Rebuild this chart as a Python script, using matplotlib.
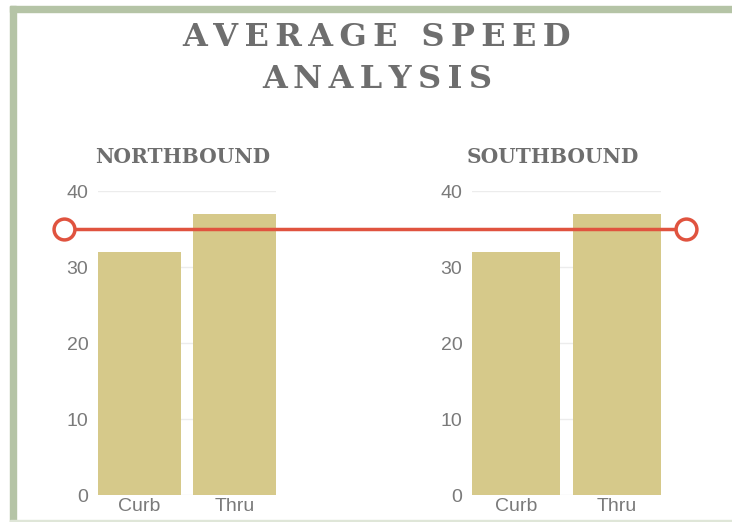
import matplotlib.pyplot as plt
from matplotlib.patches import Rectangle

# data
categories = ["Curb", "Thru"]
north_speed = [32, 37]
south_speed = [32, 37]
speed_limit = 35
y_ticks = [0, 10, 20, 30, 40]

bar_color = "#d6c98a"
line_color = "#e0533f"
text_gray = "#6e6e6e"
tick_gray = "#7a7a7a"
border_green = "#b5c4a6"

fig = plt.figure(figsize=(7.32, 5.22), dpi=100)
W, H = 732, 522


def px_axes(x0, x1, y_top, y_bot):
    return [x0 / W, 1 - y_bot / H, (x1 - x0) / W, (y_bot - y_top) / H]


# green frame
fig.patches.append(Rectangle((10 / W, 0), 6 / W, 1 - 6 / H, transform=fig.transFigure,
                             color=border_green, zorder=0))
fig.patches.append(Rectangle((10 / W, 1 - 12 / H), 1 - 10 / W, 6 / H, transform=fig.transFigure,
                             color=border_green, zorder=0))
fig.patches.append(Rectangle((10 / W, 0), 1 - 10 / W, 2 / H, transform=fig.transFigure,
                             color="#dfe6d8", zorder=0))

spaced = lambda s: "\u2009".join(s)
fig.text(377 / W, 1 - 38 / H, spaced("AVERAGE SPEED"), ha="center", va="center",
         family="DejaVu Serif", fontweight="bold", fontsize=23, color=text_gray)
fig.text(377 / W, 1 - 80 / H, spaced("ANALYSIS"), ha="center", va="center",
         family="DejaVu Serif", fontweight="bold", fontsize=23, color=text_gray)

panels = [
    ("NORTHBOUND", north_speed, px_axes(98, 276, 191, 495), 183),
    ("SOUTHBOUND", south_speed, px_axes(472, 661, 191, 495), 553),
]

for title, vals, pos, tx in panels:
    ax = fig.add_axes(pos)
    ax.bar(range(len(categories)), vals, width=0.88, color=bar_color, zorder=2)
    ax.set_xlim(-0.44, len(categories) - 0.56)
    ax.set_ylim(0, 40)
    ax.set_yticks(y_ticks)
    ax.set_xticks(range(len(categories)))
    ax.set_xticklabels(categories)
    ax.grid(axis="y", color="#ececec", lw=1, zorder=0)
    for s in ax.spines.values():
        s.set_visible(False)
    ax.tick_params(length=0, labelsize=14, colors=tick_gray, pad=2)
    ax.tick_params(axis="y", pad=7)
    for lbl in ax.get_xticklabels() + ax.get_yticklabels():
        lbl.set_family("Liberation Sans")
    ax.set_facecolor("none")
    fig.text(tx / W, 1 - 157 / H, title, ha="center", va="center",
             family="DejaVu Serif", fontweight="bold", fontsize=14.5, color=text_gray)

# speed limit line across both panels
ov = fig.add_axes(px_axes(64, 686, 191, 495))
ov.set_xlim(0, 1)
ov.set_ylim(0, 40)
ov.plot([0, 1], [speed_limit, speed_limit], color=line_color, lw=2.5,
        marker="o", markersize=15, markerfacecolor="white", markeredgewidth=2.5,
        clip_on=False, zorder=5)
ov.axis("off")

fig.savefig("out.png", dpi=100)
